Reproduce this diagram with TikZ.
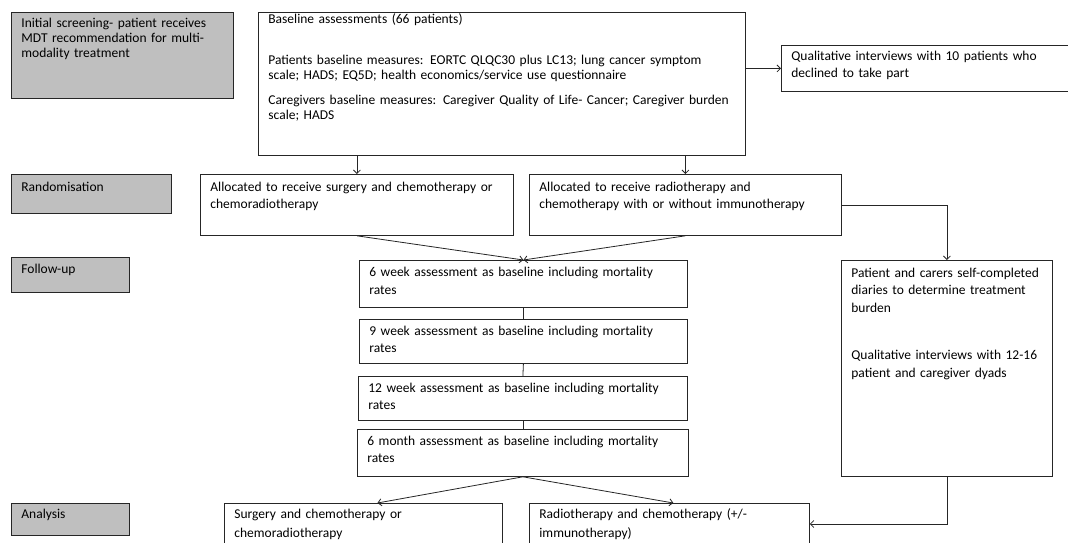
\documentclass[tikz,border=0pt]{standalone}
\usepackage{fontspec}
\setmainfont{Carlito}
\usetikzlibrary{arrows.meta,calc}
\definecolor{stagegray}{HTML}{BFBFBF}
\definecolor{inkgray}{HTML}{262626}

\begin{document}
\begin{tikzpicture}[x=1pt, y=-1pt,
  every node/.style = {font=\fontsize{13.5}{17.5}\selectfont, text=black},
  box/.style n args = {3}{draw=inkgray, line width=0.8pt, anchor=north west,
    align=left, inner xsep=10pt, inner ysep=0pt, minimum width=#1,
    text width={#1-20pt}, text height=#3, text depth={#2-#3}},
  stage/.style n args = {3}{box={#1}{#2}{#3}, fill=stagegray},
  link/.style = {draw=inkgray, line width=0.8pt},
  arr/.style = {link, -{Straight Barb[length=3.5pt, width=7pt]}}
  ]
  \useasboundingbox (0,0) rectangle (1068,543);
  \clip (0,0) rectangle (1068,543);

  % stages down the left side
  \node[stage={222pt}{86pt}{15pt}, font=\fontsize{13.5}{15}\selectfont] (init) at (11,12)
  {Initial screening- patient receives\\ MDT recommendation for multi-\\ modality treatment};
  \node[stage={160pt}{39pt}{17pt}] (rand) at (11,174) {Randomisation};
  \node[stage={118pt}{35pt}{16pt}] (follow) at (11,257) {Follow-up};
  \node[stage={118pt}{32pt}{15pt}] (analysis) at (11,503) {Analysis};

  \node[box={487pt}{143pt}{11pt}, font=\fontsize{13.5}{15}\selectfont] (base) at (258,12)
  {Baseline assessments (66 patients)\\[26pt]
   Patients baseline measures: EORTC QLQC30 plus LC13; lung cancer symptom\\
   scale; HADS; EQ5D; health economics/service use questionnaire\\[10pt]
   Caregivers baseline measures: Caregiver Quality of Life- Cancer; Caregiver burden\\
   scale; HADS};
  \node[box={300pt}{46pt}{15pt}, font=\fontsize{13.5}{16.7}\selectfont] (qual) at (781,45)
  {Qualitative interviews with 10 patients who\\ declined to take part};

  \node[box={313pt}{61pt}{17pt}] (allocS) at (200,174)
  {Allocated to receive surgery and chemotherapy or\\ chemoradiotherapy};
  \node[box={312pt}{61pt}{17pt}] (allocR) at (529,174)
  {Allocated to receive radiotherapy and\\ chemotherapy with or without immunotherapy};

  \node[box={328pt}{47pt}{16pt}, font=\fontsize{13.5}{18.3}\selectfont] (w6) at (359,260)
  {6 week assessment as baseline including mortality\\ rates};
  \node[box={328pt}{44pt}{16pt}, font=\fontsize{13.5}{16.7}\selectfont] (w9) at (359,319)
  {9 week assessment as baseline including mortality\\ rates};
  \node[box={329pt}{44pt}{16pt}] (w12) at (358,376)
  {12 week assessment as baseline including mortality\\ rates};
  \node[box={331pt}{47pt}{16pt}] (m6) at (357,429)
  {6 month assessment as baseline including mortality\\ rates};

  \node[box={211pt}{216pt}{17pt}] (patient) at (841,260)
  {Patient and carers self-completed\\ diaries to determine treatment\\ burden\\[30pt]
   Qualitative interviews with 12-16\\ patient and caregiver dyads};

  \node[box={278pt}{60pt}{15pt}, font=\fontsize{13.5}{19}\selectfont] (anS) at (224,503)
  {Surgery and chemotherapy or\\ chemoradiotherapy};
  \node[box={280pt}{60pt}{15pt}, font=\fontsize{13.5}{19}\selectfont] (anR) at (529,503)
  {Radiotherapy and chemotherapy (+/-\\ immunotherapy)};

  % connectors
  \draw[arr] (base.east |- qual.west) -- (qual.west);
  \draw[arr] (allocS.north |- base.south) -- (allocS.north);
  \draw[arr] (allocR.north |- base.south) -- (allocR.north);
  \draw[arr] (allocS.south) -- (w6.north);
  \draw[arr] (allocR.south) -- (w6.north);
  \foreach \a/\b in {w6/w9, w9/w12, w12/m6}{
    \draw[link] (\a.south) -- (\b.north);
  }
  \draw[arr] (m6.south) -- ($(anS.north)+(14,0)$);
  \draw[arr] (m6.south) -- ($(anR.north)+(4,0)$);
  \draw[arr] (allocR.east) -| (patient.north);
  \draw[arr] (patient.south) |- ($(anR.north east)+(0,21)$);
\end{tikzpicture}
\end{document}
